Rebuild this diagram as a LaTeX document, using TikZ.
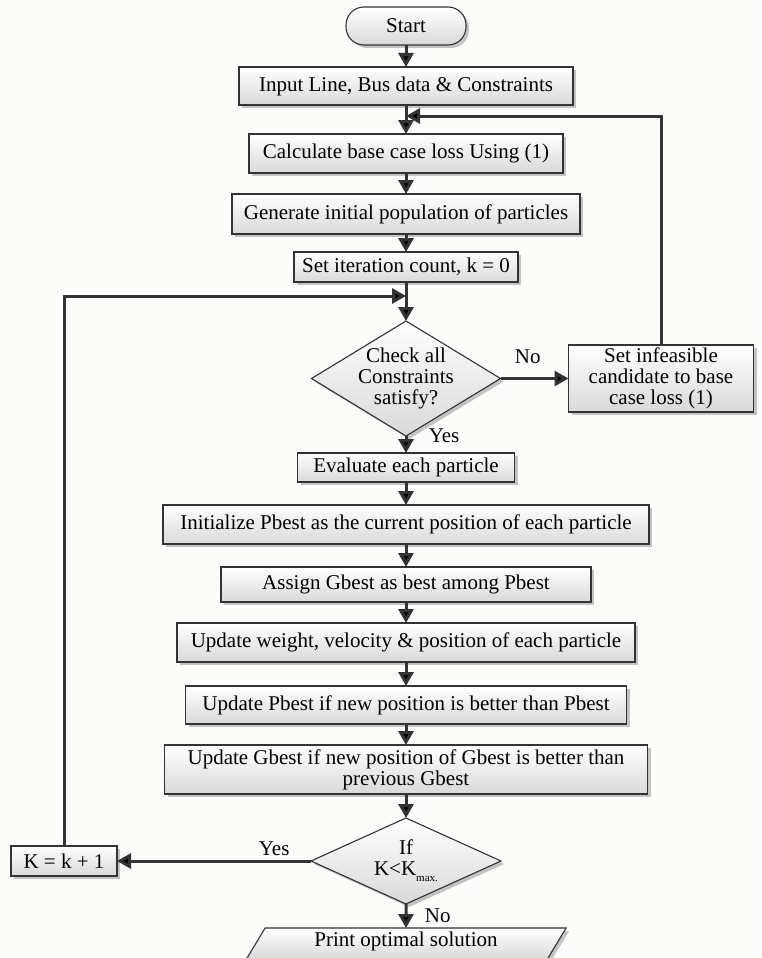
\documentclass[tikz,border=0pt]{standalone}
\usepackage{fontspec}
\setmainfont{Liberation Serif}
\usepackage{xcolor}
\usepackage{tikz}
\usetikzlibrary{shapes.geometric,arrows.meta,shadows,positioning}
\definecolor{linegray}{HTML}{333333}
\definecolor{paper}{HTML}{FCFCFA}
\tikzset{>={Triangle[length=14pt,width=15pt]}}
\tikzset{box node/.style={rectangle,draw=linegray,line width=1.1pt,top color=white,bottom color=black!15,
            drop shadow={shadow xshift=3pt,shadow yshift=-3pt,fill=black!45,opacity=.5},
            inner sep=0pt,outer sep=0pt,align=center},
         dec node/.style={box node,diamond,inner sep=-12pt,aspect=1.6},
         term node/.style={box node,rounded corners=18pt},
         io node/.style={box node,trapezium,trapezium left angle=63.4,trapezium right angle=116.6,
            trapezium stretches=true,text height=15pt,text depth=10pt},
            }

\begin{document}
\begin{tikzpicture}[x=1pt,y=-1pt,font=\fontsize{21}{21}\selectfont]

    \clip (0,0) rectangle (761,958);
    \fill[paper] (0,0) rectangle (761,958);

    \node[term node,minimum width=120pt,minimum height=38pt] (1) at (406,26) {Start};
    \node[box node,minimum width=334pt,minimum height=38pt] (2) [below=22pt of 1] {Input Line, Bus data \& Constraints};
    \node[box node,minimum width=314pt,minimum height=39pt] (3) [below=29pt of 2] {Calculate base case loss Using (1)};
    \node[box node,minimum width=348pt,minimum height=40pt] (4) [below=21pt of 3] {Generate initial population of particles};
    \node[box node,minimum width=224pt,minimum height=30pt] (5) [below=18pt of 4] {Set iteration count, k = 0};
    \node[dec node,minimum width=189pt,minimum height=115pt] (6) [below=39pt of 5] {Check all\\Constraints\\satisfy?};
    \node[box node,minimum width=185pt,minimum height=67pt] (7) [right=68pt of 6] {Set infeasible\\candidate to base\\case loss (1)};
    \node[box node,minimum width=217pt,minimum height=29pt] (8) [below=17pt of 6] {Evaluate each particle};
    \node[box node,minimum width=486pt,minimum height=39pt] (9) [below=23pt of 8] {Initialize Pbest as the current position of each particle};
    \node[box node,minimum width=370pt,minimum height=35pt] (10) [below=23pt of 9] {Assign Gbest as best among Pbest};
    \node[box node,minimum width=458pt,minimum height=39pt] (11) [below=21pt of 10] {Update weight, velocity \& position of each particle};
    \node[box node,minimum width=441pt,minimum height=38pt] (12) [below=24pt of 11] {Update Pbest if new position is better than Pbest};
    \node[box node,minimum width=483pt,minimum height=49pt] (13) [below=21pt of 12] {Update Gbest if new position of Gbest is better than\\previous Gbest};
    \node[dec node,minimum width=190pt,minimum height=86pt] (14) [below=24pt of 13] {If\\K<K\raisebox{-6pt}{\fontsize{11}{11}\selectfont max.}};
    \node[box node,minimum width=106pt,minimum height=30pt] (15) [left=194pt of 14] {K = k + 1};
    \node[io node,minimum width=321pt,minimum height=32pt] (16) [below=24pt of 14] {Print optimal solution};

    \coordinate (r) at (406,116);
    \coordinate (l) at (406,296);

    \path[draw=linegray,line width=3pt,->]
    (1) edge (2)
    (2) edge (3)
    (3) edge (4)
    (4) edge (5)
    (5) edge (6)
    (6) edge node[above=10pt,pos=.4]{No} (7)
    (6) edge node[pos=0,right,xshift=18pt]{Yes} (8)
    (8) edge (9)
    (9) edge (10)
    (10) edge (11)
    (11) edge (12)
    (12) edge (13)
    (13) edge (14)
    (14) edge node[above,pos=.19]{Yes} (15)
    (14) edge node[right,xshift=14pt]{No} (16)
    (7) edge[to path={|- (\tikztotarget)}] (r)
    (15) edge[to path={|- (\tikztotarget)}] (l);

\end{tikzpicture}
\end{document}
